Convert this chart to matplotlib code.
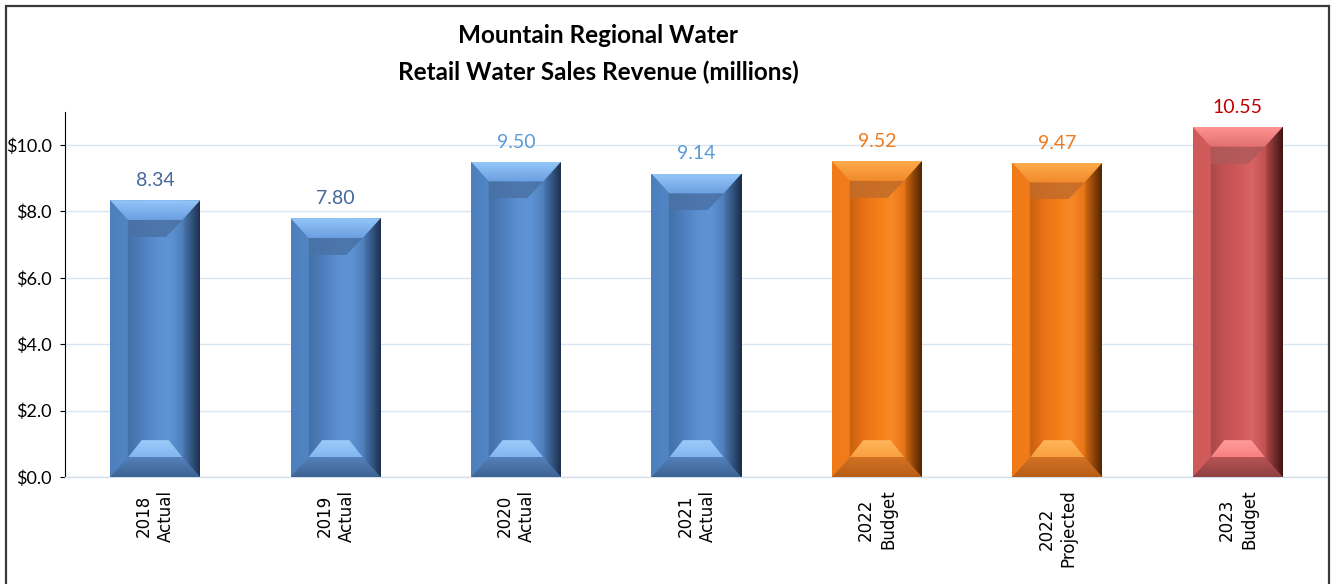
import numpy as np
import matplotlib
matplotlib.use('Agg')
import matplotlib.pyplot as plt
from matplotlib.patches import Polygon, Rectangle
from matplotlib.colors import LinearSegmentedColormap
from matplotlib.ticker import FuncFormatter

# data
categories = ['2018\nActual', '2019\nActual', '2020\nActual', '2021\nActual',
              '2022\nBudget', '2022\nProjected', '2023\nBudget']
revenue = [8.34, 7.80, 9.50, 9.14, 9.52, 9.47, 10.55]
labels = ['8.34', '7.80', '9.50', '9.14', '9.52', '9.47', '10.55']
families = ['blue', 'blue', 'blue', 'blue', 'orange', 'orange', 'red']
label_colors = ['#44679a', '#44679a', '#5b9bd5', '#5b9bd5', '#ee7a1c', '#ee7a1c', '#c00000']

# bevel palettes
PAL = {
    'blue': dict(
        base='#5286c6',
        side=[(0, '#4d7fbd'), (0.19, '#5185c3'), (0.2, '#4470a8'), (0.33, '#4c7cba'),
              (0.5, '#5a8ecf'), (0.65, '#5e94d6'), (0.8, '#4f80bb'), (0.81, '#4876ae'),
              (1.0, '#1a2c48')],
        top=['#6b9fe0', '#94c6f8'], shadow='#4a72a6',
        bot=['#3d6393', '#5581b9'], botlight=['#82b6f0', '#9ccbfa']),
    'orange': dict(
        base='#f07a18',
        side=[(0, '#f07a18'), (0.19, '#f27c1a'), (0.2, '#c8620e'), (0.33, '#e67016'),
              (0.5, '#f47c16'), (0.65, '#f78a26'), (0.8, '#e87418'), (0.81, '#cc660f'),
              (1.0, '#4a2000')],
        top=['#f08a2a', '#ffab4c'], shadow='#c26c2a',
        bot=['#b65e16', '#d27224'], botlight=['#f8a040', '#ffb65a']),
    'red': dict(
        base='#d05858',
        side=[(0, '#d05a5a'), (0.19, '#d25c5c'), (0.2, '#a84848'), (0.33, '#c25252'),
              (0.5, '#d05858'), (0.65, '#d86464'), (0.8, '#c05050'), (0.81, '#a84444'),
              (1.0, '#3a1010')],
        top=['#e07070', '#ff9292'], shadow='#b05a5a',
        bot=['#8e4040', '#b85454'], botlight=['#f88080', '#ff9c9c']),
}


def shade(ax, verts, stops, horizontal=True, z=3, alpha=1.0):
    # fill a polygon with a linear gradient (imshow clipped to the polygon)
    poly = Polygon(verts, closed=True, facecolor='none', edgecolor='none')
    ax.add_patch(poly)
    cmap = LinearSegmentedColormap.from_list('g', stops)
    xs = [v[0] for v in verts]
    ys = [v[1] for v in verts]
    g = np.linspace(0, 1, 256)
    img = g[None, :] if horizontal else g[:, None]
    im = ax.imshow(img, cmap=cmap, extent=(min(xs), max(xs), min(ys), max(ys)),
                   origin='lower', aspect='auto', interpolation='bilinear',
                   zorder=z, alpha=alpha)
    im.set_clip_path(poly)


plt.rcParams['font.family'] = ['Lato', 'DejaVu Sans']

fig = plt.figure(figsize=(13.32, 5.84), dpi=100)
ax = fig.add_axes([0.0488, 0.1832, 0.9482, 0.6253])

x = np.arange(len(categories))
bars = ax.bar(x, revenue, width=0.5, color=[PAL[f]['base'] for f in families], zorder=2)

dx, dy = 0.1, 0.6
for rect, fam in zip(bars, families):
    p = PAL[fam]
    x0, w, h = rect.get_x(), rect.get_width(), rect.get_height()
    x1 = x0 + w
    # body with side bevels
    shade(ax, [(x0, 0), (x1, 0), (x1, h), (x0, h)], p['side'], True, z=3)
    # top bevel
    shade(ax, [(x0, h), (x1, h), (x1 - dx, h - dy), (x0 + dx, h - dy)], p['top'], False, z=4)
    # shadow under top bevel
    shade(ax, [(x0 + dx, h - dy), (x1 - dx, h - dy), (x1 - 1.9 * dx, h - 1.85 * dy),
               (x0 + dx, h - 1.85 * dy)], [p['shadow'], p['shadow']], False, z=4, alpha=0.85)
    # bottom bevel
    shade(ax, [(x0, 0), (x1, 0), (x1 - dx, dy), (x0 + dx, dy)], p['bot'], False, z=4)
    # bottom highlight
    shade(ax, [(x0 + dx, dy), (x1 - dx, dy), (x1 - 1.75 * dx, 1.85 * dy),
               (x0 + 1.75 * dx, 1.85 * dy)], p['botlight'], False, z=4)

for xi, v, t, c in zip(x, revenue, labels, label_colors):
    ax.annotate(t, (xi, v), xytext=(0, 8), textcoords='offset points',
                ha='center', va='bottom', fontsize=14, color=c)

ax.set_xlim(-0.5, 6.5)
ax.set_ylim(0, 11)
ax.set_yticks(np.arange(0, 11, 2))
ax.yaxis.set_major_formatter(FuncFormatter(lambda v, _: f'${v:.1f}'))
ax.tick_params(axis='y', length=3.6, width=0.8, pad=6, labelsize=13)
ax.set_xticks(x)
ax.set_xticklabels(categories, rotation=90, fontsize=12, family=['DejaVu Sans'],
                   multialignment='center', linespacing=1.3)
ax.tick_params(axis='x', length=0, pad=9)

ax.grid(axis='y', color='#dae5f2', linewidth=1.0, zorder=0)
ax.set_axisbelow(True)
for s in ['top', 'right']:
    ax.spines[s].set_visible(False)
ax.spines['bottom'].set_color('#d4e0ee')
ax.spines['bottom'].set_linewidth(1.0)
ax.spines['left'].set_color('black')
ax.spines['left'].set_linewidth(0.8)

fig.text(0.449, 0.94, 'Mountain Regional Water', ha='center', va='center',
         fontsize=17.5, fontweight='bold')
fig.text(0.449, 0.877, 'Retail Water Sales Revenue (millions)', ha='center', va='center',
         fontsize=17.5, fontweight='bold')

fig.patches.append(Rectangle((5.5 / 1332, -0.05), 1323 / 1332, 1.0389,
                             transform=fig.transFigure, fill=False,
                             edgecolor='#3a3a3a', linewidth=1.6))

fig.savefig('out.png', dpi=100)
